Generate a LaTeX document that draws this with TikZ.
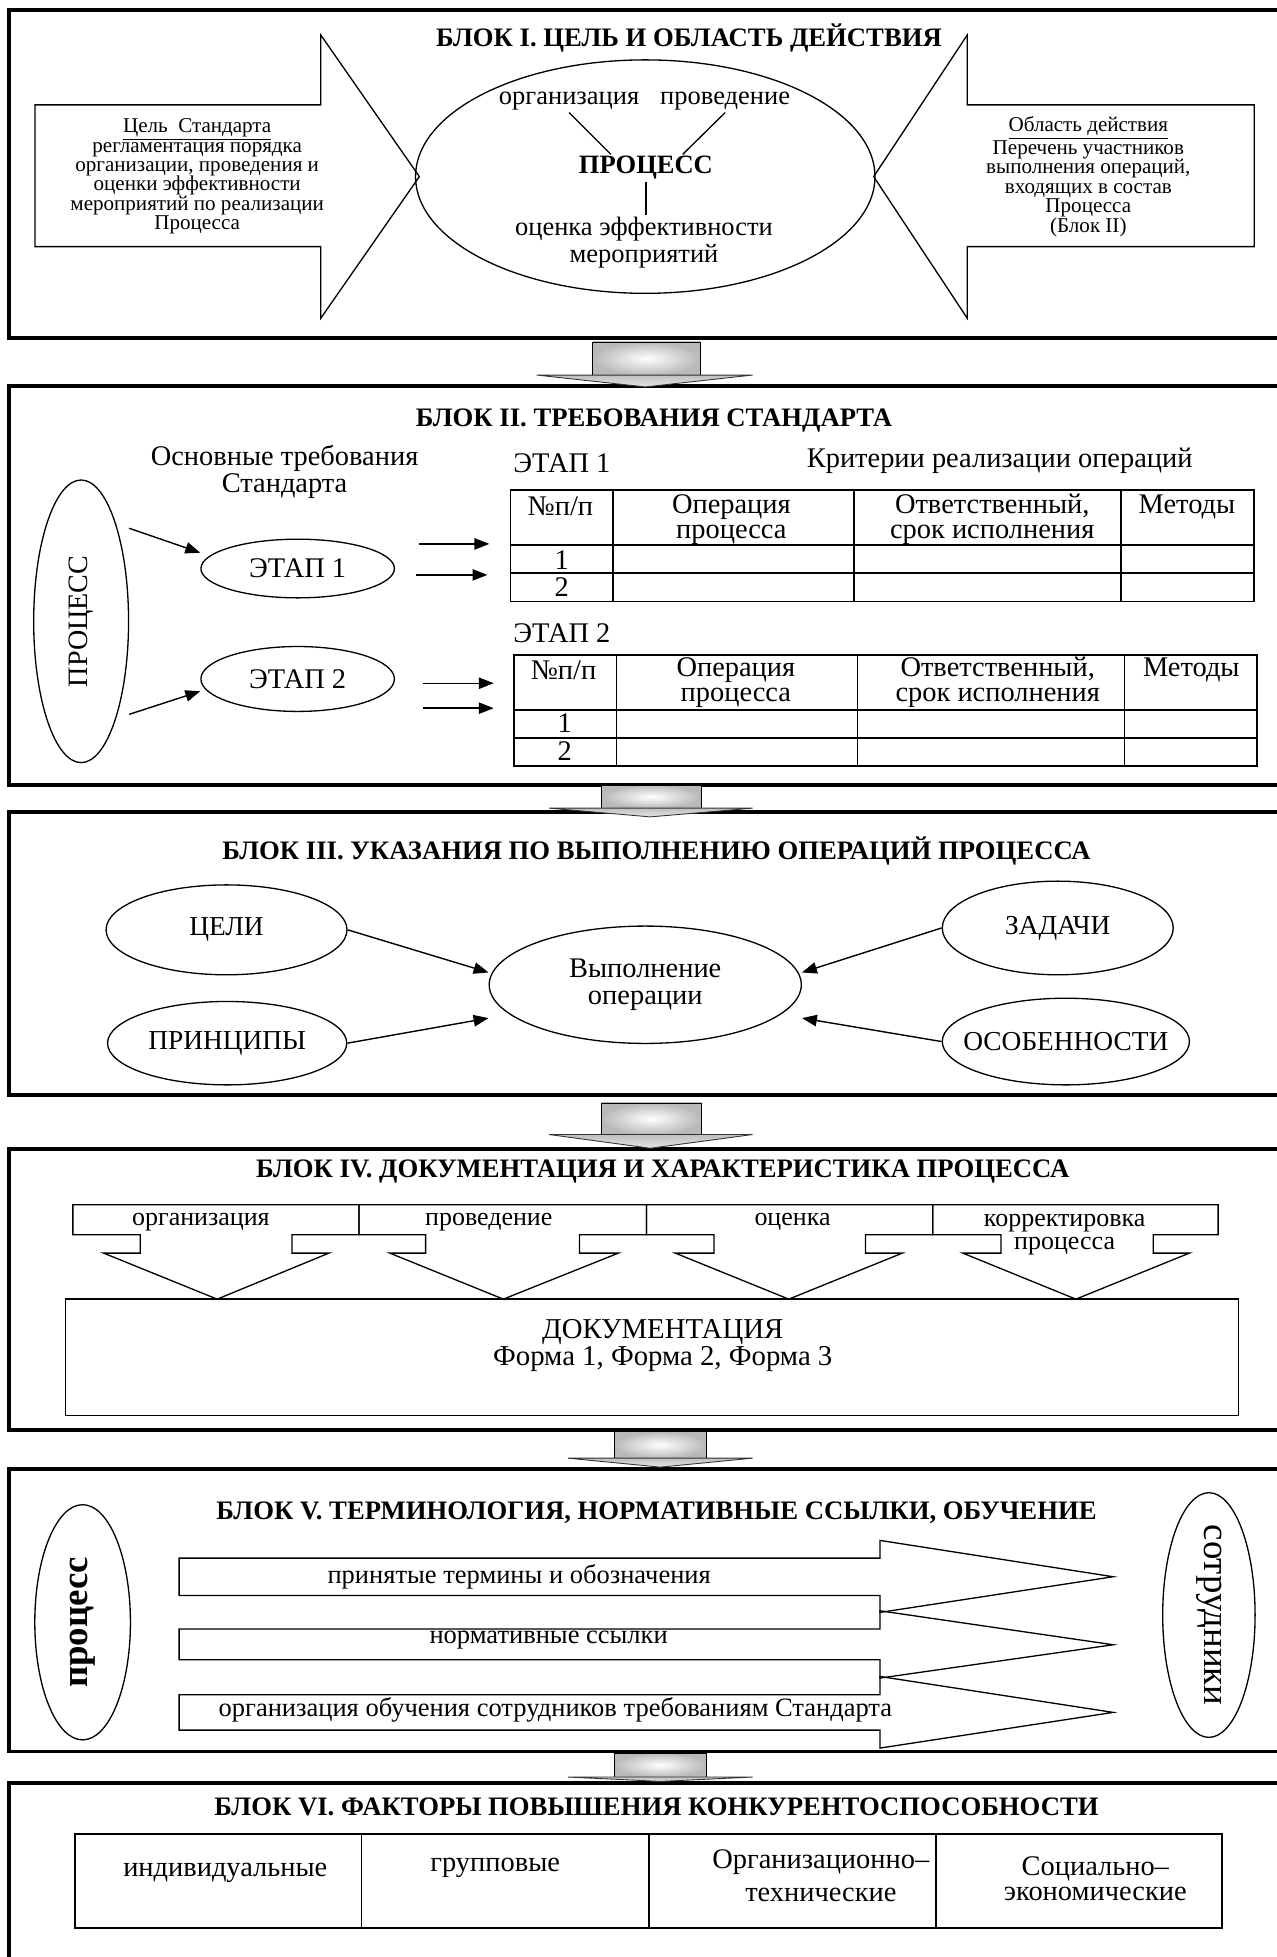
\documentclass[tikz,border=0pt]{standalone}
\usepackage{fontspec}
\setmainfont{Liberation Serif}
\newfontfamily\uprightfont{Liberation Serif}
\usetikzlibrary{shapes.geometric,arrows.meta}

\begin{document}
\begin{tikzpicture}[x=0.025cm, y=-0.025cm,
blockframe/.style={draw, line width=2.2pt},
linepart/.style={draw, line width=0.75pt},
tabline/.style={draw, line width=1pt},
ovalnode/.style={ellipse, draw, line width=0.75pt, inner sep=0pt, font=\fontsize{15.6}{15.2}\selectfont},
titlenode/.style={inner sep=0pt, font=\fontsize{15.2}{15}\selectfont\bfseries},
smalltext/.style={inner sep=0pt, align=center, font=\fontsize{12}{11.06}\selectfont},
midtext/.style={inner sep=1pt, align=center, font=\fontsize{15.1}{15.6}\selectfont},
tabtext/.style={inner sep=0pt, align=center, font=\fontsize{16.2}{14.2}\selectfont},
celltext/.style={inner sep=0pt, align=center, font=\fontsize{14.8}{13.2}\selectfont},
bandtext/.style={inner sep=0pt, font=\fontsize{15.1}{14}\selectfont},
arr/.style={line width=0.8pt, -{Triangle[length=8.5pt,width=6.5pt]}},
grayshaft/.style={draw=black, line width=0.5pt, inner color=white, outer color=gray!55},
grayhead/.style={draw=black!80, line width=0.5pt, top color=gray!50, bottom color=gray!20},
]
\useasboundingbox (0,0) rectangle (1023,1568);

%Frames
\draw[blockframe] (7,8) rectangle (1040,271);
\draw[blockframe] (7,309.5) rectangle (1040,629);
\draw[blockframe] (7,650.5) rectangle (1040,877);
\draw[blockframe] (7,920.7) rectangle (1040,1145.6);
\draw[blockframe] (7,1177) rectangle (1040,1403.3);
\draw[blockframe] (7,1428.6) rectangle (1040,1600);

%Gray arrows between the blocks
\shade[grayshaft] (475,274) rectangle (561,300.5);
\shade[grayhead] (430,300.5) -- (603,300.5) -- (517,310) -- cycle;
\shade[grayshaft] (482,629) rectangle (562,647.5);
\shade[grayhead] (440,647.5) -- (603,647.5) -- (521,654.5) -- cycle;
\shade[grayshaft] (482,883.7) rectangle (562,909);
\shade[grayhead] (440,909) -- (603,909) -- (521,920) -- cycle;
\shade[grayshaft] (492,1147) rectangle (566,1168.3);
\shade[grayhead] (455,1168.3) -- (603,1168.3) -- (529,1175.5) -- cycle;
\shade[grayshaft] (492,1404.6) rectangle (566,1423.8);
\shade[grayhead] (455,1423.8) -- (603,1423.8) -- (529,1427.3) -- cycle;

%Block I
\node[titlenode] (title1) at (552,30.5) {БЛОК I. ЦЕЛЬ И ОБЛАСТЬ ДЕЙСТВИЯ};
\draw[linepart] (28,84) -- (257,84) -- (257,28) -- (336,141.5) -- (257,255) -- (257,197.6) -- (28,197.6) -- cycle;
\draw[linepart] (1005,84) -- (775,84) -- (775,28) -- (700,141.5) -- (775,255) -- (775,197.6) -- (1005,197.6) -- cycle;
\node[ovalnode, minimum width=9.2cm, minimum height=4.675cm] (oval1) at (517,141.5) {};
\node[smalltext] (goal) at (158,141.4) {\underline{Цель\ \ Стандарта}\\регламентация порядка\\организации, проведения и\\оценки эффективности\\мероприятий по реализации\\Процесса};
\node[smalltext] (scope) at (872,141.4) {\underline{Область действия}\\Перечень участников\\выполнения операций,\\входящих в состав\\Процесса\\(Блок II)};
\node[midtext, anchor=base] (org) at (456,84) {организация};
\node[midtext, anchor=base] (prov) at (581,84) {проведение};
\node[midtext, anchor=base, font=\fontsize{15.1}{15.6}\selectfont\bfseries] (procb) at (517.5,139.4) {ПРОЦЕСС};
\node[midtext] (ocenka) at (516,194.5) {оценка эффективности\\мероприятий};
\draw[linepart] (org.south) -- ([xshift=-20pt]procb.north);
\draw[linepart] (prov.south) -- ([xshift=21pt]procb.north);
\draw[linepart] (procb.south) -- (procb.south |- ocenka.north);

%Block II
\node[titlenode] (title2) at (524,337) {БЛОК II. ТРЕБОВАНИЯ СТАНДАРТА};
\node[tabtext, font=\fontsize{16.2}{15.2}\selectfont] (req) at (228,378) {Основные требования\\Стандарта};
\node[tabtext, anchor=west] (stage1lbl) at (411,371) {ЭТАП 1};
\node[tabtext] (crit) at (801,369) {Критерии реализации операций};
\node[ovalnode, rotate=90, minimum width=5.66cm, minimum height=1.9cm, font=\uprightfont\fontsize{16}{18}\selectfont] (procv) at (65,497.8) {\makebox[0pt]{ПРОЦЕСС}};
\node[ovalnode, minimum width=3.875cm, minimum height=1.175cm, font=\fontsize{16.2}{15}\selectfont] (stage1) at (238.5,455.5) {ЭТАП 1};
\node[ovalnode, minimum width=3.875cm, minimum height=1.3cm, font=\fontsize{16.2}{15}\selectfont] (stage2) at (238.5,544) {ЭТАП 2};
\draw[arr] ([yshift=53pt]procv.south) -- ([yshift=9pt]stage1.west);
\draw[arr] ([yshift=-53pt]procv.south) -- ([yshift=-7pt]stage2.west);
\draw[arr] ([shift={(19,-19.7)}]stage1.east) -- ++(56.5,0);
\draw[arr] ([shift={(17,5.1)}]stage1.east) -- ++(57,0);
\draw[arr] ([shift={(22,3.4)}]stage2.east) -- ++(57,0);
\draw[arr] ([shift={(22,23.4)}]stage2.east) -- ++(57,0);
%Table 1
\draw[tabline] (409,392.6) rectangle (1005,482);
\draw[tabline] (409,436.6) -- (1005,436.6);
\draw[tabline] (409,459) -- (1005,459);
\draw[tabline] (491,392.6) -- (491,482);
\draw[tabline] (684,392.6) -- (684,482);
\draw[tabline] (898,392.6) -- (898,482);
\node[tabtext] (t1c1) at (449,406) {№п/п};
\node[tabtext] (t1c2) at (586,416) {Операция\\процесса};
\node[tabtext] (t1c3) at (795,416) {Ответственный,\\срок исполнения};
\node[tabtext] (t1c4) at (951,406) {Методы};
\node[tabtext] (t1r1) at (450,448.6) {1};
\node[tabtext] (t1r2) at (450,470.5) {2};
%Table 2
\node[tabtext, anchor=west] (stage2lbl) at (411,507) {ЭТАП 2};
\draw[tabline] (412,524.7) rectangle (1007,613.6);
\draw[tabline] (412,568.8) -- (1007,568.8);
\draw[tabline] (412,591) -- (1007,591);
\draw[tabline] (494,524.7) -- (494,613.6);
\draw[tabline] (687,524.7) -- (687,613.6);
\draw[tabline] (901,524.7) -- (901,613.6);
\node[tabtext] (t2c1) at (451.5,537) {№п/п};
\node[tabtext] (t2c2) at (589.6,547) {Операция\\процесса};
\node[tabtext] (t2c3) at (799.4,547) {Ответственный,\\срок исполнения};
\node[tabtext] (t2c4) at (954.5,537) {Методы};
\node[tabtext] (t2r1) at (452.5,579.5) {1};
\node[tabtext] (t2r2) at (452.5,602) {2};

%Block III
\node[titlenode] (title3) at (526,682) {БЛОК III. УКАЗАНИЯ ПО ВЫПОЛНЕНИЮ ОПЕРАЦИЙ ПРОЦЕССА};
\node[ovalnode, minimum width=4.825cm, minimum height=1.8cm] (goals) at (181.5,745) {ЦЕЛИ};
\node[ovalnode, minimum width=4.79cm, minimum height=1.67cm] (princ) at (182,835.8) {ПРИНЦИПЫ};
\node[ovalnode, minimum width=6.25cm, minimum height=2.35cm, align=center, font=\fontsize{16.2}{15.2}\selectfont] (exec) at (517,789) {Выполнение\\операции};
\node[ovalnode, minimum width=4.625cm, minimum height=1.875cm] (tasks) at (847.5,743.5) {ЗАДАЧИ};
\node[ovalnode, minimum width=4.95cm, minimum height=1.735cm] (feat) at (854,834.5) {\makebox[0pt]{ОСОБЕННОСТИ}};
\draw[arr] (goals.east) -- ([yshift=7pt]exec.west);
\draw[arr] (princ.east) -- ([yshift=-19pt]exec.west);
\draw[arr] (tasks.west) -- ([yshift=7pt]exec.east);
\draw[arr] (feat.west) -- ([yshift=-19pt]exec.east);

%Block IV
\node[titlenode] (title4) at (531,939) {БЛОК IV. ДОКУМЕНТАЦИЯ И ХАРАКТЕРИСТИКА ПРОЦЕССА};
\draw[linepart] (58.4,965.3) -- (287.6,965.3) -- (287.6,989.3) -- (234,989.3) -- (234,1004) -- (263.6,1004) -- (174,1040.9) -- (83,1004) -- (112.3,1004) -- (112.3,989.3) -- (58.4,989.3) -- cycle;
\draw[linepart] (287.6,965.3) -- (518,965.3) -- (518,989.3) -- (464.3,989.3) -- (464.3,1004) -- (495.5,1004) -- (403.3,1040.9) -- (312.3,1004) -- (341,1004) -- (341,989.3) -- (287.6,989.3) -- cycle;
\draw[linepart] (518,965.3) -- (747.4,965.3) -- (747.4,989.3) -- (693.5,989.3) -- (693.5,1004) -- (723,1004) -- (632,1040.9) -- (541,1004) -- (572,1004) -- (572,989.3) -- (518,989.3) -- cycle;
\draw[linepart] (747.4,965.3) -- (976,965.3) -- (976,989.3) -- (924,989.3) -- (924,1004) -- (953,1004) -- (862,1040.9) -- (771.4,1004) -- (802,1004) -- (802,989.3) -- (747.4,989.3) -- cycle;
\node[celltext] (cell1) at (161,979) {организация};
\node[celltext] (cell2) at (391.6,979) {проведение};
\node[celltext] (cell3) at (635,979) {оценка};
\node[celltext] (cell4) at (853,989) {корректировка\\процесса};
\node[draw, line width=0.75pt, minimum width=23.485cm, minimum height=2.335cm] (docbox) at (522.3,1087.6) {};
\node[tabtext, font=\fontsize{16.4}{15.7}\selectfont] (doctext) at (531,1078) {ДОКУМЕНТАЦИЯ\\Форма 1, Форма 2, Форма 3};

%Block V
\node[titlenode] (title5) at (526,1212) {БЛОК V. ТЕРМИНОЛОГИЯ, НОРМАТИВНЫЕ ССЫЛКИ, ОБУЧЕНИЕ};
\node[ovalnode, rotate=90, minimum width=4.71cm, minimum height=1.915cm, font=\uprightfont\fontsize{21}{24}\selectfont\bfseries] (procl) at (66.2,1299.8) {\makebox[0pt]{процесс}};
\node[ovalnode, rotate=-90, minimum width=4.9cm, minimum height=1.85cm, font=\uprightfont\fontsize{21}{24}\selectfont] (staff) at (968.6,1294) {\makebox[0pt]{сотрудники}};
\draw[linepart] (143.5,1248.4) -- (705,1248.4) -- (705,1234.2) -- (891.9,1263.3) -- (705,1291.9) -- (705,1278.4) -- (143.5,1278.4) -- cycle;
\draw[linepart] (143.5,1305.2) -- (705,1305.2) -- (705,1290.6) -- (891.9,1317.8) -- (705,1344.5) -- (705,1329.8) -- (143.5,1329.8) -- cycle;
\draw[linepart] (143.5,1357.9) -- (705,1357.9) -- (705,1343.2) -- (891.9,1372) -- (705,1400.6) -- (705,1386.2) -- (143.5,1386.2) -- cycle;
\node[bandtext] (band1) at (416,1263) {принятые термины и обозначения};
\node[bandtext] (band2) at (439.6,1314) {нормативные ссылки};
\node[bandtext] (band3) at (445,1370) {организация обучения сотрудников требованиям Стандарта};

%Block VI
\node[titlenode] (title6) at (526,1448) {БЛОК VI. ФАКТОРЫ ПОВЫШЕНИЯ КОНКУРЕНТОСПОСОБНОСТИ};
\draw[tabline, line width=1.2pt] (60.4,1469.2) rectangle (979,1544.8);
\draw[tabline] (289.6,1469.2) -- (289.6,1544.8);
\draw[tabline] (520,1469.2) -- (520,1544.8);
\draw[tabline] (750,1469.2) -- (750,1544.8);
\node[tabtext] (fact1) at (180.5,1500.5) {индивидуальные};
\node[tabtext] (fact2) at (396.8,1496.5) {групповые};
\node[tabtext] (fact3) at (657.7,1503) {Организационно–\\[4.4pt]технические};
\node[tabtext] (fact4) at (877.6,1505) {Социально–\\экономические};
\end{tikzpicture}
\end{document}
